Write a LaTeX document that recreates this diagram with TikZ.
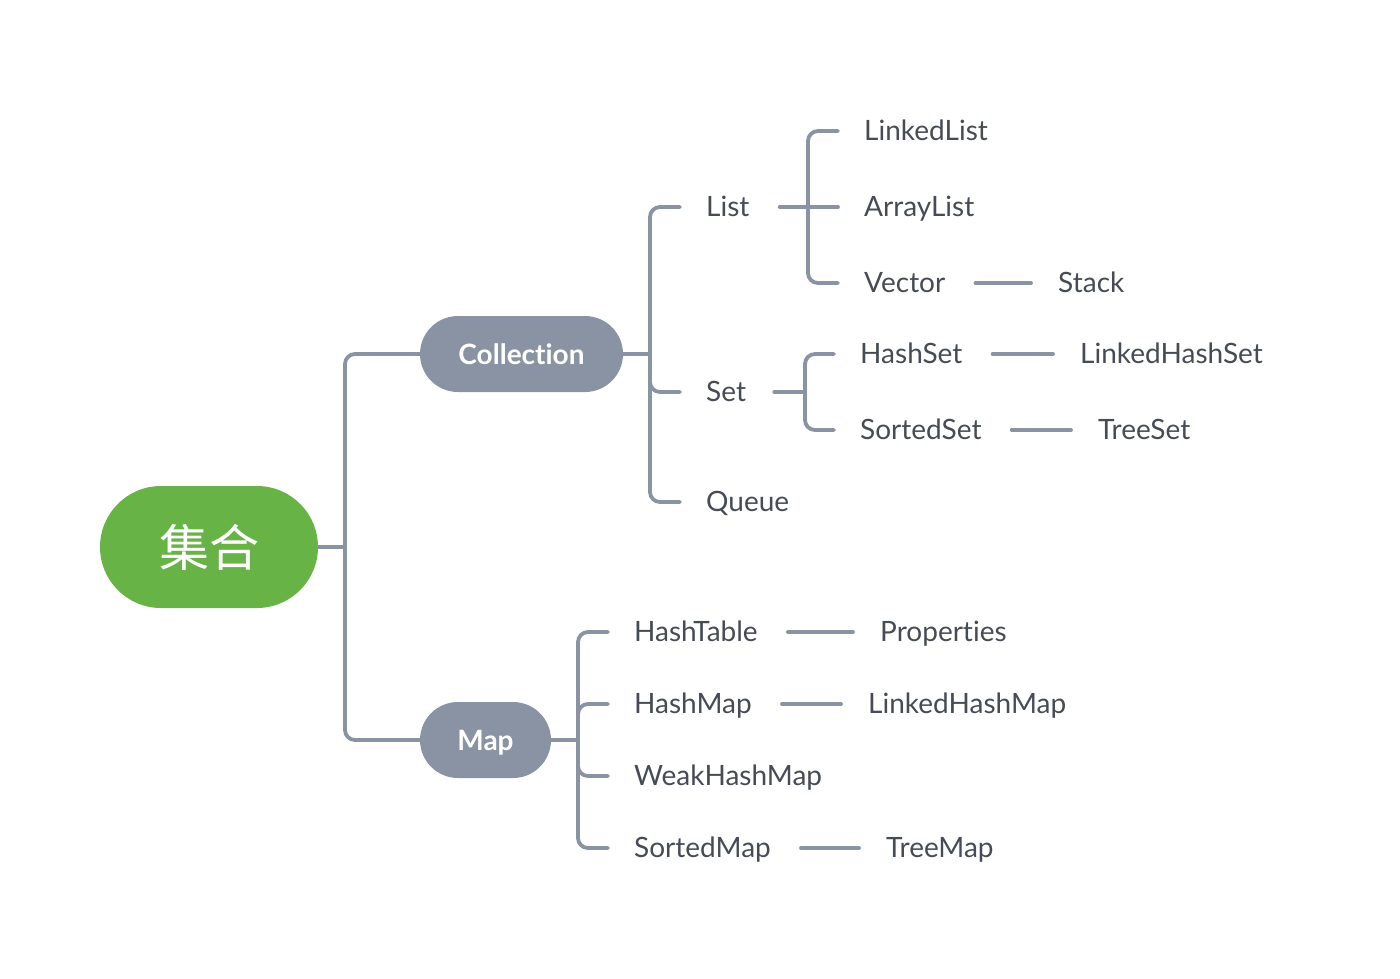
\documentclass[tikz,border=0pt]{standalone}
\usepackage{fontspec}
\setmainfont{Lato}[Ligatures=NoCommon]
\newfontfamily\cjkfont{Noto Sans CJK SC}
\usetikzlibrary{shapes.misc}
\definecolor{linegray}{HTML}{8A93A3}
\definecolor{textgray}{HTML}{464B55}
\definecolor{rootgreen}{HTML}{67B346}
\tikzset{
  leaf/.style={anchor=west,inner sep=0pt,text height=19.5pt,text depth=0pt,text=textgray,font=\fontsize{28}{28}\selectfont},
  pill/.style={rounded rectangle,fill=linegray,text=white,inner sep=0pt,minimum height=76pt,text height=20pt,text depth=0pt,font=\fontsize{28}{28}\selectfont\bfseries},
  conn/.style={draw=linegray,line width=3.8pt,line cap=round,rounded corners=10pt},
  dashline/.style={conn,shorten <=30pt,shorten >=27pt},
}
\begin{document}
\begin{tikzpicture}[x=1pt,y=-1pt]
\useasboundingbox (0,0) rectangle (1400,978);
\def\gap{26pt};

\coordinate (root_bus) at (345,547);
\coordinate (coll_bus) at (650,354);
\coordinate (map_bus) at (578,740);
\coordinate (list_bus) at (808,207);
\coordinate (set_bus) at (805,392);

\node[pill,fill=rootgreen,minimum width=218pt,minimum height=122pt,text height=,text depth=,font=\cjkfont\fontsize{50}{50}\selectfont] (root) at (209,547) {集合};
\node[pill,minimum width=203pt] (coll) at (521.5,354) {Collection};
\node[pill,minimum width=131pt] (map) at (485.5,740) {Map};

\node[leaf] (list) at (706,207) {List};
\node[leaf] (set) at (706,392) {Set};
\node[leaf] (queue) at (706,502) {Queue};

\node[leaf] (linkedlist) at (864,131) {LinkedList};
\node[leaf] (arraylist) at (864,207) {ArrayList};
\node[leaf] (vector) at (864,283) {Vector};
\node[leaf] (stack) at (1058,283) {Stack};

\node[leaf] (hashset) at (860,354) {HashSet};
\node[leaf] (linkedhashset) at (1080,354) {LinkedHashSet};
\node[leaf] (sortedset) at (860,430) {SortedSet};
\node[leaf] (treeset) at (1098,430) {TreeSet};

\node[leaf] (hashtable) at (634,632) {HashTable};
\node[leaf] (properties) at (880,632) {Properties};
\node[leaf] (hashmap) at (634,704) {HashMap};
\node[leaf] (linkedhashmap) at (868,704) {LinkedHashMap};
\node[leaf] (weakhashmap) at (634,776) {WeakHashMap};
\node[leaf] (sortedmap) at (634,848) {SortedMap};
\node[leaf] (treemap) at (886,848) {TreeMap};

\draw[conn] (root.east) -- (root_bus);
\draw[conn] (coll.west) -| (root_bus) |- (map.west);

\draw[conn] (coll.east) -- (coll_bus);
\draw[conn] ([xshift=-\gap]list.west) -| (coll_bus) |- ([xshift=-\gap]queue.west);
\draw[conn] (coll_bus) |- ([xshift=-\gap]set.west);

\draw[conn] ([xshift=30pt]list.east) -- (list_bus);
\draw[conn] ([xshift=-\gap]linkedlist.west) -| (list_bus) |- ([xshift=-\gap]vector.west);
\draw[conn] (list_bus) -- ([xshift=-\gap]arraylist.west);

\draw[conn] ([xshift=28pt]set.east) -- (set_bus);
\draw[conn] ([xshift=-\gap]hashset.west) -| (set_bus) |- ([xshift=-\gap]sortedset.west);

\draw[conn] (map.east) -- (map_bus);
\draw[conn] ([xshift=-\gap]hashtable.west) -| (map_bus) |- ([xshift=-\gap]sortedmap.west);
\draw[conn] (map_bus) |- ([xshift=-\gap]hashmap.west);
\draw[conn] (map_bus) |- ([xshift=-\gap]weakhashmap.west);

\draw[dashline] (vector) -- (stack);
\draw[dashline] (hashset) -- (linkedhashset);
\draw[dashline] (sortedset) -- (treeset);
\draw[dashline] (hashtable) -- (properties);
\draw[dashline] (hashmap) -- (linkedhashmap);
\draw[dashline] (sortedmap) -- (treemap);
\end{tikzpicture}
\end{document}
